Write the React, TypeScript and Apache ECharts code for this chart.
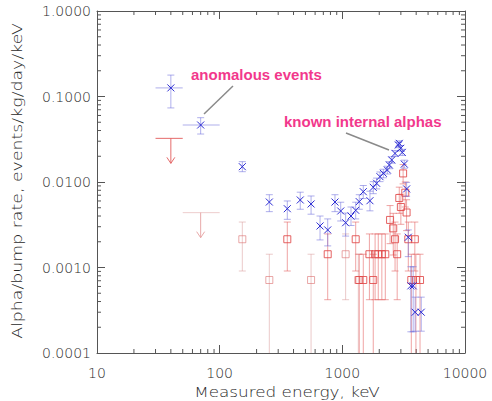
import React, { useEffect, useRef } from "react";
import * as echarts from "echarts";

// ---- tick labels ----
const xTickLabels = ["10", "100", "1000", "10000"];
const yTickLabels = ["0.0001", "0.0010", "0.0100", "0.1000", "1.0000"];

// ---- anomalous events (blue, with energy error bars) ----
const anomalousEnergy = [40, 70];
const anomalousELow = [30, 50];
const anomalousEHigh = [50, 100];
const anomalousRate = [0.126, 0.0464];
const anomalousRateLow = [0.0735, 0.0364];
const anomalousRateHigh = [0.178, 0.0565];

// ---- upper limits for bumps at low energy (red arrows) ----
const limitEnergy = [40, 70];
const limitELow = [30, 50];
const limitEHigh = [50, 100];
const limitRate = [0.0324, 0.00438];
const limitFaint = [false, true];

// ---- alpha rate (blue crosses) ----
const alphaEnergy = [153, 254, 356, 454, 556, 658, 760, 871, 970, 1064, 1177, 1285, 1374, 1482, 1679, 1787, 1903, 2027, 2160, 2328, 2417, 2527, 2689, 2862, 2912, 2990, 3080, 3200, 3343, 3450, 3620, 3780, 3920, 4400];
const alphaRate = [0.0151, 0.00583, 0.00487, 0.00616, 0.00553, 0.00306, 0.00275, 0.00583, 0.00458, 0.00334, 0.0040, 0.00467, 0.00589, 0.0077, 0.00604, 0.00867, 0.00966, 0.01154, 0.01264, 0.0138, 0.0158, 0.0181, 0.0216, 0.0271, 0.0283, 0.0248, 0.0222, 0.0162, 0.0083, 0.00226, 0.00061, 0.00061, 0.0003, 0.0003];
const alphaLow = [0.0132, 0.0045, 0.00366, 0.0048, 0.0042, 0.0021, 0.00179, 0.0045, 0.0035, 0.00233, 0.0031, 0.0037, 0.0048, 0.0064, 0.0046, 0.0073, 0.0083, 0.0101, 0.0112, 0.0124, 0.0143, 0.0166, 0.0199, 0.0252, 0.0264, 0.0230, 0.0204, 0.0145, 0.0068, 0.00134, 0.000177, 0.000177, 0.00018, 0.00018];
const alphaHigh = [0.0173, 0.0071, 0.0060, 0.0076, 0.00686, 0.0040, 0.0037, 0.0071, 0.0058, 0.00433, 0.0051, 0.0058, 0.0071, 0.0091, 0.0078, 0.0101, 0.0111, 0.0131, 0.0141, 0.0153, 0.0173, 0.0197, 0.0234, 0.0291, 0.0303, 0.0267, 0.0241, 0.0180, 0.0099, 0.00275, 0.00102, 0.00102, 0.00045, 0.00045];

// ---- bump rate, strong red squares ----
const bumpEnergy = [356, 760, 1285, 1374, 1482, 1662, 1787, 1850, 1963, 2100, 2240, 2450, 2600, 2690, 2800, 2912, 3000, 3130, 3260, 3340, 3450, 3650, 3900, 3980, 4300];
const bumpRate = [0.00214, 0.00143, 0.00214, 0.000714, 0.000714, 0.00143, 0.000714, 0.00143, 0.00143, 0.00143, 0.00143, 0.0036, 0.00287, 0.00214, 0.00143, 0.0065, 0.0051, 0.0126, 0.0075, 0.0044, 0.00214, 0.000714, 0.00214, 0.000714, 0.000714];
const bumpLow = [0.00091, 0.00042, 0.00091, 0.00005, 0.00005, 0.00042, 0.00005, 0.00042, 0.00042, 0.00042, 0.00042, 0.0019, 0.0014, 0.00091, 0.00042, 0.0043, 0.0032, 0.0095, 0.0051, 0.0027, 0.00091, 0.00005, 0.00091, 0.00005, 0.00005];
const bumpHigh = [0.0034, 0.00247, 0.0034, 0.00143, 0.00143, 0.00247, 0.00143, 0.00247, 0.00247, 0.00247, 0.00247, 0.0053, 0.0043, 0.0034, 0.00247, 0.0087, 0.0072, 0.0160, 0.0100, 0.0062, 0.0034, 0.00143, 0.0034, 0.00143, 0.00143];

// ---- bump rate, faint red squares ----
const faintEnergy = [153, 254, 556, 1064, 1350];
const faintRate = [0.00214, 0.000714, 0.000714, 0.00143, 0.000714];
const faintLow = [0.00091, 0.00005, 0.00005, 0.00042, 0.00005];
const faintHigh = [0.0034, 0.00143, 0.00143, 0.00247, 0.00143];

const xTitle = "Measured energy, keV";
const yTitle = "Alpha/bump rate, events/kg/day/keV";

const BLUE_MARK = "#2c2cd4";
const BLUE_BAR = "rgba(110,110,220,0.55)";
const RED_MARK = "rgba(224,72,72,0.85)";
const RED_BAR = "rgba(226,90,90,0.55)";
const FAINT_MARK = "rgba(220,110,110,0.6)";
const FAINT_BAR = "rgba(215,150,150,0.5)";
const AXIS = "#555";
const TEXT = "#2a2a2a";
const FONT = "'DejaVu Sans', sans-serif";

function line(x1: number, y1: number, x2: number, y2: number, stroke: string, lw = 1) {
  return { type: "line", shape: { x1, y1, x2, y2 }, style: { stroke, lineWidth: lw } };
}

export default function App() {
  const ref = useRef<HTMLDivElement>(null);
  useEffect(() => {
    if (!ref.current) return;
    const chart = echarts.init(ref.current, undefined, { renderer: "svg" });

    const xMinor: number[][] = [];
    [10, 100, 1000].forEach((d) => { for (let k = 2; k <= 9; k++) xMinor.push([d * k, 0.001]); });
    const yMinor: number[][] = [];
    [0.0001, 0.001, 0.01, 0.1].forEach((d) => { for (let k = 2; k <= 9; k++) yMinor.push([100, d * k]); });

    const fmtY = (v: number) => yTickLabels[Math.round(Math.log10(v)) + 4] ?? "";
    const fmtX = (v: number) => xTickLabels[Math.round(Math.log10(v)) - 1] ?? "";

    const commonAxis = {
      type: "log",
      logBase: 10,
      axisLine: { show: true, lineStyle: { color: AXIS, width: 1 } },
      axisTick: { show: true, inside: true, length: 8, lineStyle: { color: AXIS } },
      splitLine: { show: false },
      minorTick: { show: false },
    };

    const errSeries = (data: number[][], mark: string, bar: string, shape: "x" | "square") => ({
      type: "custom",
      clip: true,
      data,
      renderItem: (params: any, api: any) => {
        const x = api.value(0), y = api.value(1), lo = api.value(2), hi = api.value(3);
        const p = api.coord([x, y]);
        const pl = api.coord([x, lo]);
        const ph = api.coord([x, hi]);
        const ch: any[] = [
          line(p[0], pl[1], p[0], ph[1], bar),
          line(p[0] - 3.5, pl[1], p[0] + 3.5, pl[1], bar),
          line(p[0] - 3.5, ph[1], p[0] + 3.5, ph[1], bar),
        ];
        if (shape === "x") {
          ch.push(line(p[0] - 3.5, p[1] - 3.5, p[0] + 3.5, p[1] + 3.5, mark));
          ch.push(line(p[0] - 3.5, p[1] + 3.5, p[0] + 3.5, p[1] - 3.5, mark));
        } else {
          ch.push({ type: "rect", shape: { x: p[0] - 3.5, y: p[1] - 3.5, width: 7, height: 7 }, style: { fill: "none", stroke: mark, lineWidth: 1 } });
        }
        return { type: "group", children: ch };
      },
    });

    const alphaData = alphaEnergy.map((e, i) => [e, alphaRate[i], alphaLow[i], alphaHigh[i]]);
    const bumpData = bumpEnergy.map((e, i) => [e, bumpRate[i], bumpLow[i], bumpHigh[i]]);
    const faintData = faintEnergy.map((e, i) => [e, faintRate[i], faintLow[i], faintHigh[i]]);
    const anomData = anomalousEnergy.map((e, i) => [e, anomalousRate[i], anomalousELow[i], anomalousEHigh[i], anomalousRateLow[i], anomalousRateHigh[i]]);
    const limitData = limitEnergy.map((e, i) => [e, limitRate[i], limitELow[i], limitEHigh[i], limitFaint[i] ? 1 : 0]);

    const labelStyle = { color: TEXT, fontSize: 14, fontFamily: FONT, fontWeight: 200 };

    chart.setOption({
      animation: false,
      grid: { left: 97, right: 27, top: 11, bottom: 48, containLabel: false },
      xAxis: [
        { ...commonAxis, min: 10, max: 10000, position: "bottom", axisLabel: { ...labelStyle, formatter: fmtX, margin: 13 } },
        { ...commonAxis, min: 10, max: 10000, position: "top", axisLabel: { show: false } },
      ],
      yAxis: [
        { ...commonAxis, min: 0.0001, max: 1, position: "left", axisLabel: { ...labelStyle, formatter: fmtY, margin: 6 } },
        { ...commonAxis, min: 0.0001, max: 1, position: "right", axisLabel: { show: false } },
      ],
      series: [
        {
          type: "custom",
          data: xMinor,
          renderItem: (params: any, api: any) => {
            const v = api.value(0);
            const b = api.coord([v, 0.0001]);
            const t = api.coord([v, 1]);
            return { type: "group", children: [line(b[0], b[1], b[0], b[1] - 4, AXIS), line(t[0], t[1], t[0], t[1] + 4, AXIS)] };
          },
        },
        {
          type: "custom",
          data: yMinor,
          renderItem: (params: any, api: any) => {
            const v = api.value(1);
            const l = api.coord([10, v]);
            const r = api.coord([10000, v]);
            return { type: "group", children: [line(l[0], l[1], l[0] + 4, l[1], AXIS), line(r[0], r[1], r[0] - 4, r[1], AXIS)] };
          },
        },
        errSeries(faintData, FAINT_MARK, FAINT_BAR, "square"),
        errSeries(bumpData, RED_MARK, RED_BAR, "square"),
        {
          type: "custom",
          clip: true,
          data: limitData,
          renderItem: (params: any, api: any) => {
            const x = api.value(0), y = api.value(1), xl = api.value(2), xh = api.value(3), faint = api.value(4);
            const p = api.coord([x, y]);
            const pl = api.coord([xl, y]);
            const ph = api.coord([xh, y]);
            const c = faint ? "rgba(230,160,160,0.9)" : "rgba(225,90,90,0.9)";
            const tip = p[1] + 25;
            return {
              type: "group",
              children: [
                line(pl[0], p[1], ph[0], p[1], faint ? "rgba(235,200,200,0.9)" : c),
                line(p[0], p[1], p[0], tip, c),
                line(p[0] - 4, tip - 6, p[0], tip, c),
                line(p[0] + 4, tip - 6, p[0], tip, c),
              ],
            };
          },
        },
        errSeries(alphaData, BLUE_MARK, BLUE_BAR, "x"),
        {
          type: "custom",
          clip: true,
          data: anomData,
          renderItem: (params: any, api: any) => {
            const x = api.value(0), y = api.value(1), xl = api.value(2), xh = api.value(3), yl = api.value(4), yh = api.value(5);
            const p = api.coord([x, y]);
            const a = api.coord([xl, y]);
            const b = api.coord([xh, y]);
            const lo = api.coord([x, yl]);
            const hi = api.coord([x, yh]);
            return {
              type: "group",
              children: [
                line(a[0], p[1], b[0], p[1], BLUE_BAR),
                line(p[0], lo[1], p[0], hi[1], BLUE_BAR),
                line(p[0] - 3.5, lo[1], p[0] + 3.5, lo[1], BLUE_BAR),
                line(p[0] - 3.5, hi[1], p[0] + 3.5, hi[1], BLUE_BAR),
                line(p[0] - 3.5, p[1] - 3.5, p[0] + 3.5, p[1] + 3.5, BLUE_MARK),
                line(p[0] - 3.5, p[1] + 3.5, p[0] + 3.5, p[1] - 3.5, BLUE_MARK),
              ],
            };
          },
        },
      ],
      graphic: [
        { type: "text", x: 287, y: 392, scaleX: 1.2, style: { text: xTitle, fill: TEXT, fontSize: 14, fontFamily: FONT, fontWeight: 200, align: "center", verticalAlign: "middle" } },
        { type: "text", x: 17, y: 181, rotation: Math.PI / 2, scaleX: 1.24, style: { text: yTitle, fill: TEXT, fontSize: 14, fontFamily: FONT, fontWeight: 200, align: "center", verticalAlign: "middle" } },
        { type: "text", x: 191, y: 74, style: { text: "anomalous events", fill: "#f2388c", fontSize: 15, fontWeight: "bold", fontFamily: "'Liberation Sans', Arial, sans-serif", align: "left", verticalAlign: "middle" } },
        { type: "text", x: 284, y: 121, style: { text: "known internal alphas", fill: "#f2388c", fontSize: 15, fontWeight: "bold", fontFamily: "'Liberation Sans', Arial, sans-serif", align: "left", verticalAlign: "middle" } },
        { type: "line", shape: { x1: 233, y1: 86, x2: 204, y2: 114 }, style: { stroke: "#8a8a8a", lineWidth: 1.5 } },
        { type: "line", shape: { x1: 346, y1: 133, x2: 389, y2: 150 }, style: { stroke: "#8a8a8a", lineWidth: 1.5 } },
      ],
    });
    return () => chart.dispose();
  }, []);
  return <div ref={ref} style={{ position: "fixed", left: 0, top: 0, width: 492, height: 401, background: "#fff" }} />;
}
